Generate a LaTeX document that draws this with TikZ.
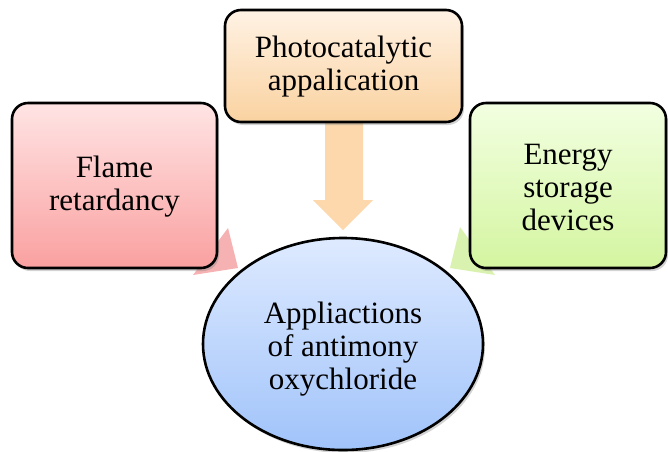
\documentclass[tikz,border=0pt]{standalone}
\usepackage{fontspec}
\setmainfont{Liberation Serif}
\usetikzlibrary{shadows,shapes.geometric}
\definecolor{redT}{RGB}{255,228,228}
\definecolor{redB}{RGB}{250,160,160}
\definecolor{orT}{RGB}{255,242,228}
\definecolor{orB}{RGB}{250,210,160}
\definecolor{grT}{RGB}{242,255,225}
\definecolor{grB}{RGB}{212,245,160}
\definecolor{blT}{RGB}{222,234,255}
\definecolor{blB}{RGB}{160,195,250}
\definecolor{redA}{RGB}{246,178,178}
\definecolor{orA}{RGB}{252,216,172}
\definecolor{grA}{RGB}{218,242,175}
\begin{document}
\begin{tikzpicture}[x=1pt,y=-1pt,
  box/.style={draw=black,line width=2.6pt,rounded corners=16pt,
    drop shadow={shadow xshift=2pt,shadow yshift=-3pt,opacity=0.35}},
  label/.style={align=center,font=\fontsize{31}{33}\selectfont,inner sep=0pt}]
\useasboundingbox (0,0) rectangle (668,451);
% arrows (behind)
\fill[redA] (228,228) -- (193,275) -- (238,268) -- cycle;
\fill[grA] (460,227) -- (495,275) -- (450,268) -- cycle;
\fill[orA] (325,120) -- (363,120) -- (363,200) -- (373,200) -- (343,230) -- (313,200) -- (325,200) -- cycle;
% boxes
\path[box,top color=redT,bottom color=redB] (12,103) rectangle (217,268);
\node[label] (flame) at (114.5,187) {Flame\\retardancy};
\path[box,top color=orT,bottom color=orB] (225,10) rectangle (462,122);
\node[label] (photo) at (343.5,67) {Photocatalytic\\appalication};
\path[box,top color=grT,bottom color=grB] (470,103) rectangle (666,268);
\node[label] (energy) at (568,187) {Energy\\storage\\devices};
% ellipse
\path[draw=black,line width=2.6pt,top color=blT,bottom color=blB,
  drop shadow={shadow xshift=2pt,shadow yshift=-3pt,opacity=0.35}]
  (343,344) ellipse [x radius=140,y radius=106];
\node[label] (app) at (343,349) {Appliactions\\of antimony\\oxychloride};
\end{tikzpicture}
\end{document}
